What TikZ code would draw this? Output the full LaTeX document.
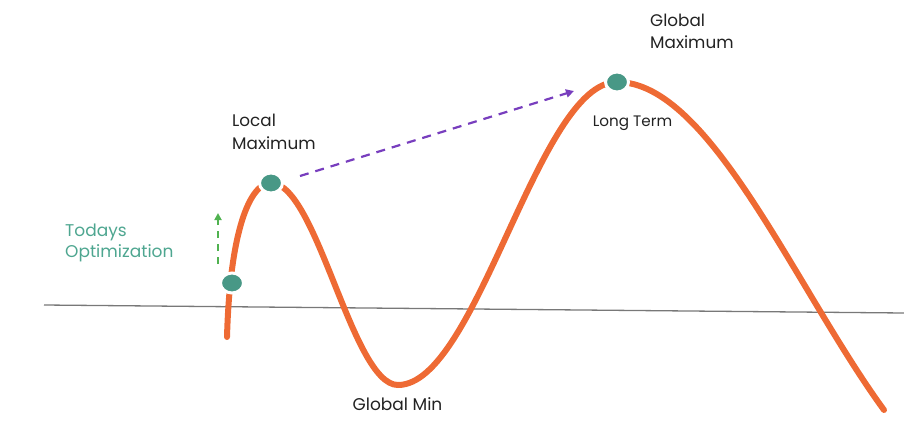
\documentclass[tikz,border=0pt]{standalone}
\usepackage{fontspec}
\setmainfont{Poppins}
\usetikzlibrary{arrows.meta,shapes.geometric}
\definecolor{curveorange}{RGB}{238,106,52}
\definecolor{dotteal}{RGB}{72,152,134}
\definecolor{textteal}{RGB}{78,166,144}
\definecolor{arrowgreen}{RGB}{80,178,80}
\definecolor{arrowpurple}{RGB}{120,62,190}
\definecolor{axisgray}{RGB}{120,120,120}
\definecolor{labelgray}{RGB}{34,34,34}
\begin{document}
\begin{tikzpicture}[x=1pt,y=-1pt,
  curve/.style={draw=curveorange,line width=6pt},
  dot/.style={ellipse,fill=dotteal,draw=white,line width=3pt,minimum width=23pt,minimum height=20pt,inner sep=0pt},
  lbl/.style={text=labelgray,align=left,font=\fontsize{16.8}{23.5}\selectfont,inner sep=0pt,anchor=north west},
  small/.style={text=labelgray,inner sep=0pt,font=\fontsize{15.2}{17}\selectfont},
  dasharrow/.style={dashed,line width=2.2pt,dash pattern=on 9pt off 7pt,-{Triangle[length=8pt,width=8pt]}}]
\useasboundingbox (0,0) rectangle (904,420);
% axis
\coordinate (axL) at (44,305);
\coordinate (axR) at (904,313);
\draw[axisgray,line width=1.3pt] (axL) -- (axR);
% curve
\draw[curve,line cap=round] (227,337) .. controls (230,230) and (250,183) .. (271,183)
  .. controls (317,183) and (352,385) .. (398,385)
  .. controls (477,385) and (538,82) .. (617,82)
  .. controls (710,82) and (795,288) .. (884,410);
% dots
\node[dot] (today) at (232,283) {};
\node[dot] (localmax) at (271,183) {};
\node[dot] (globalmax) at (617,82) {};
% arrows
\coordinate (gs) at (218,264);
\coordinate (ge) at (218,213);
\draw[dasharrow,arrowgreen,line width=1.8pt,dash pattern=on 7pt off 6pt,-{Triangle[length=7pt,width=7pt]}] (gs) -- (ge);
\coordinate (ps) at (300,176);
\coordinate (pe) at (574,91);
\draw[dasharrow,arrowpurple] (ps) -- (pe);
% labels
\node[lbl] (locallbl) at (232,113.5) {Local\\Maximum};
\node[lbl,font=\fontsize{16.8}{22.5}\selectfont] (globallbl) at (650,13.5) {Global\\Maximum};
\node[lbl,text=textteal,font=\fontsize{17}{21.5}\selectfont] (todaylbl) at (65,223.5) {Todays\\Optimization};
\node[small] (longterm) at (632.5,123.5) {Long Term};
\node[small,font=\fontsize{17}{19}\selectfont] (globalmin) at (397.5,404) {Global Min};
\end{tikzpicture}
\end{document}
